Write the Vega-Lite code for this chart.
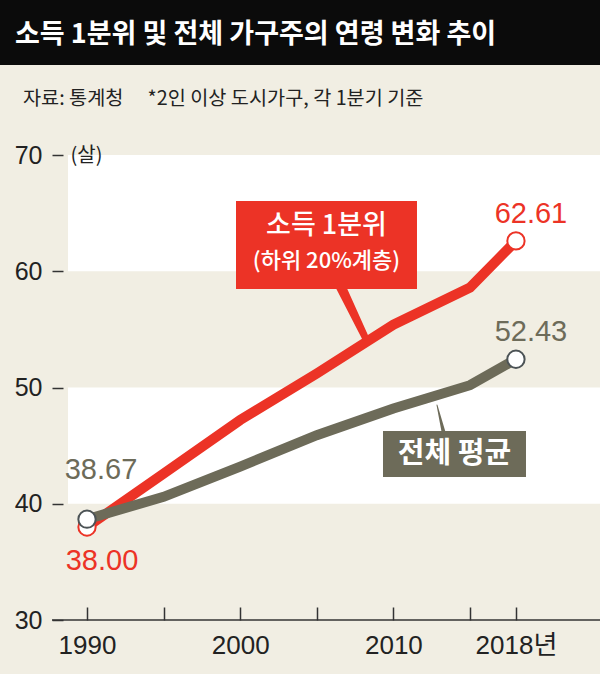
{
  "$schema": "https://vega.github.io/schema/vega-lite/v6.json",
  "background": "#f1eee3",
  "padding": 0,
  "spacing": 0,
  "bounds": "flush",
  "config": {"view": {"stroke": null}, "font": "Noto Sans CJK KR"},
  "datasets": {
    "ages": [
      {"series": "소득 1분위", "year": 1990, "age": 38.00},
      {"series": "소득 1분위", "year": 1995, "age": 42.6},
      {"series": "소득 1분위", "year": 2000, "age": 47.2},
      {"series": "소득 1분위", "year": 2005, "age": 51.2},
      {"series": "소득 1분위", "year": 2010, "age": 55.4},
      {"series": "소득 1분위", "year": 2015, "age": 58.6},
      {"series": "소득 1분위", "year": 2018, "age": 62.61},
      {"series": "전체 평균", "year": 1990, "age": 38.67},
      {"series": "전체 평균", "year": 1995, "age": 40.6},
      {"series": "전체 평균", "year": 2000, "age": 43.2},
      {"series": "전체 평균", "year": 2005, "age": 45.9},
      {"series": "전체 평균", "year": 2010, "age": 48.2},
      {"series": "전체 평균", "year": 2015, "age": 50.2},
      {"series": "전체 평균", "year": 2018, "age": 52.43}
    ],
    "bands": [{"lo": 60, "hi": 70}, {"lo": 40, "hi": 50}],
    "pointers": [
      {"series": "소득 1분위", "part": "rbase", "year": 2006.514, "age": 58.817},
      {"series": "소득 1분위", "part": "rtip", "year": 2008.146, "age": 54.344},
      {"series": "전체 평균", "part": "gbase", "year": 2013.303, "age": 46.0},
      {"series": "전체 평균", "part": "gtip", "year": 2012.846, "age": 48.495}
    ],
    "one": [{}]
  },
  "vconcat": [
    {
      "width": 600,
      "height": 65,
      "data": {"name": "one"},
      "mark": {"type": "rect", "color": "#0b0b0b"},
      "title": {
        "text": "소득 1분위 및 전체 가구주의 연령 변화 추이",
        "orient": "top",
        "anchor": "start",
        "frame": "group",
        "offset": -70,
        "dx": 15,
        "baseline": "alphabetic",
        "color": "#ffffff",
        "font": "Noto Sans CJK KR",
        "fontSize": 27,
        "fontWeight": "bold"
      }
    },
    {
      "width": 600,
      "height": 609,
      "title": {
        "text": "자료: 통계청\u2003 *2인 이상 도시가구, 각 1분기 기준",
        "orient": "top",
        "anchor": "start",
        "frame": "group",
        "offset": -60,
        "dx": 23,
        "baseline": "alphabetic",
        "color": "#222222",
        "font": "Noto Sans CJK KR",
        "fontSize": 19.7,
        "fontWeight": "normal"
      },
      "layer": [
        {
          "data": {"name": "ages"},
          "mark": {"type": "line", "strokeWidth": 10, "strokeJoin": "miter", "opacity": 0},
          "encoding": {
            "x": {
              "field": "year", "type": "quantitative",
              "scale": {"domain": [1984.321, 2023.486], "nice": false, "zero": false},
              "axis": {
                "values": [1990, 1995, 2000, 2005, 2010, 2015, 2018],
                "format": "d",
                "labelExpr": "datum.value == 2018 ? '2018년' : (datum.value % 10 == 0 ? datum.label : '')",
                "title": null, "offset": -54, "domain": false, "grid": false,
                "tickSize": -13, "tickColor": "#333333", "tickWidth": 1.5,
                "labelFont": "Liberation Sans, Noto Sans CJK KR", "labelFontSize": 26,
                "labelColor": "#222222", "labelPadding": 25, "labelFlush": false, "labelOverlap": false
              }
            },
            "y": {
              "field": "age", "type": "quantitative",
              "scale": {"domain": [25.355, 77.742], "nice": false, "zero": false},
              "axis": {
                "values": [30, 40, 50, 60, 70],
                "zindex": 1,
                "title": "(살)", "titleAngle": 0, "titleAlign": "left", "titleBaseline": "middle",
                "titleX": 7, "titleY": 90, "titleFont": "Noto Sans CJK KR", "titleFontSize": 20,
                "titleFontWeight": "normal", "titleColor": "#222222",
                "offset": -63, "domain": false, "grid": false,
                "tickSize": 11, "tickColor": "#333333", "tickWidth": 1.5,
                "labelFont": "Liberation Sans", "labelFontSize": 25,
                "labelColor": "#222222", "labelPadding": 10
              }
            }
          }
        },
        {
          "data": {"name": "bands"},
          "mark": {"type": "rect", "color": "#ffffff"},
          "encoding": {
            "x": {"datum": 1988.76, "type": "quantitative"},
            "x2": {"datum": 2023.486},
            "y": {"field": "lo", "type": "quantitative"},
            "y2": {"field": "hi"}
          }
        },
        {
          "data": {"name": "one"},
          "mark": {"type": "rule", "color": "#333333", "strokeWidth": 1.5},
          "encoding": {
            "x": {"datum": 1987.715, "type": "quantitative"},
            "x2": {"datum": 2023.486},
            "y": {"datum": 30, "type": "quantitative"}
          }
        },
        {
          "data": {"name": "ages"},
          "mark": {"type": "line", "strokeWidth": 10, "strokeJoin": "miter"},
          "encoding": {
            "x": {"field": "year", "type": "quantitative"},
            "y": {"field": "age", "type": "quantitative"},
            "color": {"field": "series", "type": "nominal", "scale": {"domain": ["소득 1분위", "전체 평균"], "range": ["#ec3326", "#6d6b59"]}, "legend": null}
          }
        },
        {
          "data": {"name": "pointers"},
          "mark": {"type": "trail"},
          "encoding": {
            "x": {"field": "year", "type": "quantitative"},
            "y": {"field": "age", "type": "quantitative"},
            "size": {"field": "part", "type": "nominal", "scale": {"domain": ["rbase", "rtip", "gbase", "gtip"], "range": [10, 1, 17, 1]}, "legend": null},
            "color": {"field": "series", "type": "nominal", "legend": null}
          }
        },
        {
          "data": {"name": "one"},
          "mark": {"type": "rect", "color": "#ec3326"},
          "encoding": {
            "x": {"datum": 1999.726, "type": "quantitative"},
            "x2": {"datum": 2011.540},
            "y": {"datum": 66.043, "type": "quantitative"},
            "y2": {"datum": 58.473}
          }
        },
        {
          "data": {"name": "one"},
          "mark": {"type": "rect", "color": "#6d6b59"},
          "encoding": {
            "x": {"datum": 2009.321, "type": "quantitative"},
            "x2": {"datum": 2018.655},
            "y": {"datum": 46.258, "type": "quantitative"},
            "y2": {"datum": 42.301}
          }
        },
        {
          "data": {"name": "one"},
          "mark": {"type": "text", "color": "#ffffff", "fontSize": 27, "fontWeight": 500, "font": "Noto Sans CJK KR", "align": "center", "baseline": "middle"},
          "encoding": {
            "x": {"datum": 2005.633, "type": "quantitative"},
            "y": {"datum": 63.892, "type": "quantitative"},
            "text": {"value": "소득 1분위"}
          }
        },
        {
          "data": {"name": "one"},
          "mark": {"type": "text", "color": "#ffffff", "fontSize": 22, "fontWeight": 500, "font": "Noto Sans CJK KR", "align": "center", "baseline": "middle"},
          "encoding": {
            "x": {"datum": 2005.633, "type": "quantitative"},
            "y": {"datum": 60.882, "type": "quantitative"},
            "text": {"value": "(하위 20%계층)"}
          }
        },
        {
          "data": {"name": "one"},
          "mark": {"type": "text", "color": "#ffffff", "fontSize": 29, "fontWeight": "bold", "font": "Noto Sans CJK KR", "align": "center", "baseline": "middle"},
          "encoding": {
            "x": {"datum": 2013.988, "type": "quantitative"},
            "y": {"datum": 44.280, "type": "quantitative"},
            "text": {"value": "전체 평균"}
          }
        },
        {
          "data": {"name": "ages"},
          "transform": [{"filter": "datum.year == 1990 || datum.year == 2018"}],
          "mark": {"type": "point", "shape": "circle", "filled": true, "fill": "#ffffff", "opacity": 1, "size": 300, "strokeWidth": 2},
          "encoding": {
            "x": {"field": "year", "type": "quantitative"},
            "y": {"field": "age", "type": "quantitative"},
            "stroke": {"field": "series", "type": "nominal", "scale": {"domain": ["소득 1분위", "전체 평균"], "range": ["#ec3326", "#4c5356"]}, "legend": null}
          }
        },
        {
          "data": {"name": "ages"},
          "transform": [{"filter": "datum.year == 2018"}],
          "mark": {"type": "text", "font": "Liberation Sans", "fontSize": 29, "align": "center", "baseline": "middle", "dx": 15, "dy": -27},
          "encoding": {
            "x": {"field": "year", "type": "quantitative"},
            "y": {"field": "age", "type": "quantitative"},
            "text": {"field": "age", "type": "quantitative", "format": ".2f"},
            "color": {"field": "series", "type": "nominal", "legend": null}
          }
        },
        {
          "data": {"name": "ages"},
          "transform": [{"filter": "datum.year == 1990 && datum.series == '전체 평균'"}],
          "mark": {"type": "text", "font": "Liberation Sans", "fontSize": 29, "align": "center", "baseline": "middle", "dx": 14, "dy": -49},
          "encoding": {
            "x": {"field": "year", "type": "quantitative"},
            "y": {"field": "age", "type": "quantitative"},
            "text": {"field": "age", "type": "quantitative", "format": ".2f"},
            "color": {"field": "series", "type": "nominal", "legend": null}
          }
        },
        {
          "data": {"name": "ages"},
          "transform": [{"filter": "datum.year == 1990 && datum.series == '소득 1분위'"}],
          "mark": {"type": "text", "font": "Liberation Sans", "fontSize": 29, "align": "center", "baseline": "middle", "dx": 15, "dy": 34},
          "encoding": {
            "x": {"field": "year", "type": "quantitative"},
            "y": {"field": "age", "type": "quantitative"},
            "text": {"field": "age", "type": "quantitative", "format": ".2f"},
            "color": {"field": "series", "type": "nominal", "legend": null}
          }
        }
      ]
    }
  ]
}
